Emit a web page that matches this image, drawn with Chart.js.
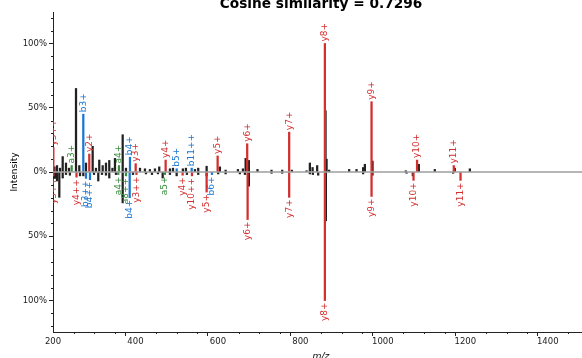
<!DOCTYPE html>
<html>
<head>
<meta charset="utf-8">
<script src="https://cdn.jsdelivr.net/npm/chart.js@4.4.1/dist/chart.umd.min.js"></script>
<style>
    body { margin: 0; background: #fff; overflow: hidden; }
    #wrap { width: 590px; height: 358px; }
</style>
</head>
<body>
<div id="wrap"><canvas id="mirrorChart" width="590" height="358"></canvas></div>
<script>
// Top spectrum: unannotated peaks
const topPeakMz = [203.6, 209.7, 217, 223.5, 231.5, 238.8, 255.8, 263.8, 280, 296.2, 304.2, 312.2, 320.5,
    328.5, 336.5, 344.2, 350.3, 369, 377, 411, 423, 435, 447.3, 457.7, 483.6, 491, 515, 522.4, 544.2, 552.2,
    572.6, 604.8, 618.7, 648.5, 660.6, 667.2, 675, 696, 730, 755.9, 779.4, 815, 823, 829.6, 840.7, 861, 863.5,
    869.8, 918.3, 936.2, 952.2, 956.4, 975, 1055.7, 1087.3, 1126, 1174.5, 1211];
const topPeakIntensity = [4, 5, 3, 12, 7, 3, 65, 5, 7, 20, 3, 9.3, 5,
    7, 9, 3, 10.6, 29, 3, 3, 2.5, 2, 2.5, 4, 2.5, 3, 2.5, 3, 2, 3,
    4.5, 4, 1.5, 2, 2.5, 10.6, 9, 2, 1.5, 1.5, 1.5, 1, 7, 3.5, 5, 47.7, 10,
    1.5, 2, 2, 3.5, 6, 8.5, 1, 6, 2, 3, 2.5];

// Top spectrum: annotated fragment ions
const topIonMz = [200.8, 245.3, 273.5, 288, 360, 386.7, 400.5, 473.2, 500, 536.4, 599.3, 671, 772.8, 859.4, 972.6, 1083, 1172];
const topIonIntensity = [19, 5, 45, 14, 5, 11.5, 6.5, 9.3, 2.5, 3, 12.5, 22, 31, 100, 54.7, 9.3, 5];
const topIonLabels = ['y3++', 'a3+', 'b3+', 'y2+', 'a4+', 'b4+', 'y3+', 'y4+', 'b5+', 'b11++', 'y5+', 'y6+', 'y7+', 'y8+', 'y9+', 'y10+', 'y11+'];

// Bottom spectrum: unannotated peaks
const bottomPeakMz = [204.8, 209.7, 215.3, 223.5, 231.5, 241, 265.5, 273.5, 299.4, 309.8, 318.8, 328.5, 336.5,
    352.7, 369, 394, 425.5, 440, 454.5, 466, 483.6, 499.9, 524.8, 552.2, 572.6, 600.7, 618.7, 653.3, 665.5,
    675, 730, 755.9, 823, 830.3, 843.2, 861.8, 952.2, 975, 1057.5, 1072.7, 1170.4];
const bottomPeakIntensity = [5, 7, 19.7, 4.7, 2, 2.5, 3, 3, 2, 7, 2, 2.5, 4.7,
    2, 24, 2, 1.5, 2, 1.5, 4.7, 2, 3, 2, 2, 3, 1.5, 1.5, 1.5, 2,
    11, 1, 1, 1.5, 2, 2.5, 38, 1.5, 2.5, 1, 3, 1];

// Bottom spectrum: annotated fragment ions
const bottomIonMz = [200.8, 257, 280, 289.7, 358.3, 377, 386, 402.4, 471.5, 514.4, 537, 572.6, 585.5, 672, 772.8, 859.4, 972.6, 1074.4, 1188.4];
const bottomIonIntensity = [3, 4, 5, 6, 2, 3, 20, 2, 2, 2.5, 3, 15.6, 2, 37, 19.7, 100, 19, 6.5, 6.5];
const bottomIonLabels = ['y3++', 'y4++', 'b3++', 'b4++', 'a4+', 'a8++', 'b4+', 'y3++', 'a5+', 'y4+', 'y10++', 'y5+', 'b6+', 'y6+', 'y7+', 'y8+', 'y9+', 'y10+', 'y11+'];

// Axis ticks
const xTickValues = [200, 400, 600, 800, 1000, 1200, 1400];
const yTickValues = [-100, -50, 0, 50, 100];

const ionColors = { a: '#388E3C', b: '#1976D2', y: '#D32F2F' };
const peakColor = '#212121';
const axisColor = '#222';

function ionColor(label) {
    return ionColors[label[0]] || peakColor;
}

function peaks(mz, intensity, sign) {
    return mz.map((x, i) => ({ x: x, y: sign * intensity[i] }));
}

function isMajor(scale, value) {
    return (scale.axis === 'x' ? xTickValues : yTickValues).includes(value);
}

// Rotated ion labels, baseline, minor ticks and titles
const spectrumDecorations = {
    id: 'spectrumDecorations',
    afterDatasetsDraw(chart) {
        const { ctx, chartArea, scales } = chart;
        const xs = scales.x, ys = scales.y;

        // zero line on top of the peaks
        const y0 = ys.getPixelForValue(0);
        ctx.save();
        ctx.strokeStyle = '#9E9E9E';
        ctx.lineWidth = 1.5;
        ctx.beginPath();
        ctx.moveTo(chartArea.left, y0);
        ctx.lineTo(chartArea.right, y0);
        ctx.stroke();

        // short minor ticks
        ctx.strokeStyle = axisColor;
        ctx.lineWidth = 1;
        ctx.beginPath();
        xs.ticks.forEach(t => {
            if (isMajor(xs, t.value)) return;
            const px = Math.round(xs.getPixelForValue(t.value)) + 0.5;
            ctx.moveTo(px, chartArea.bottom);
            ctx.lineTo(px, chartArea.bottom + 2);
        });
        ys.ticks.forEach(t => {
            if (isMajor(ys, t.value)) return;
            const py = Math.round(ys.getPixelForValue(t.value)) + 0.5;
            ctx.moveTo(chartArea.left, py);
            ctx.lineTo(chartArea.left - 2, py);
        });
        ctx.stroke();

        ctx.beginPath();
        ctx.rect(chartArea.left, 0, chartArea.right - chartArea.left, chart.height);
        ctx.clip();
        ctx.font = '9px "DejaVu Sans"';
        ctx.textBaseline = 'middle';

        function drawLabels(mz, intensity, labels, sign) {
            labels.forEach((lab, i) => {
                const px = xs.getPixelForValue(mz[i]);
                const py = ys.getPixelForValue(sign * intensity[i]);
                ctx.save();
                ctx.translate(px, py - sign * 2);
                ctx.rotate(-Math.PI / 2);
                ctx.textAlign = sign > 0 ? 'left' : 'right';
                ctx.fillStyle = ionColor(lab);
                ctx.fillText(lab, 0, 0);
                ctx.restore();
            });
        }
        drawLabels(topIonMz, topIonIntensity, topIonLabels, 1);
        drawLabels(bottomIonMz, bottomIonIntensity, bottomIonLabels, -1);
        ctx.restore();

        // titles
        const cx = (chartArea.left + chartArea.right) / 2;
        ctx.save();
        ctx.fillStyle = '#000';
        ctx.textAlign = 'center';
        ctx.textBaseline = 'alphabetic';
        ctx.font = 'bold 13.7px "DejaVu Sans"';
        ctx.fillText('Cosine similarity = 0.7296', cx, 8);
        ctx.font = 'italic 9.2px "DejaVu Sans"';
        ctx.fillText('m/z', cx, 358.5);
        ctx.translate(15, y0);
        ctx.rotate(-Math.PI / 2);
        ctx.textBaseline = 'middle';
        ctx.font = '9px "DejaVu Sans"';
        ctx.fillText('Intensity', 0, 0);
        ctx.restore();
    }
};

const barStyle = { barThickness: 1.6, borderWidth: 0, grouped: false };

const ctx = document.getElementById('mirrorChart').getContext('2d');
const mirrorChart = new Chart(ctx, {
    type: 'bar',
    data: {
        datasets: [
            { data: peaks(topPeakMz, topPeakIntensity, 1), backgroundColor: peakColor, order: 2, ...barStyle },
            { data: peaks(bottomPeakMz, bottomPeakIntensity, -1), backgroundColor: peakColor, order: 2, ...barStyle },
            { data: peaks(topIonMz, topIonIntensity, 1), backgroundColor: topIonLabels.map(ionColor), order: 1, ...barStyle },
            { data: peaks(bottomIonMz, bottomIonIntensity, -1), backgroundColor: bottomIonLabels.map(ionColor), order: 1, ...barStyle }
        ]
    },
    options: {
        responsive: false,
        animation: false,
        layout: { padding: { top: 12, right: 0, bottom: 0, left: 0 } },
        plugins: { legend: { display: false }, tooltip: { enabled: false } },
        scales: {
            x: {
                type: 'linear',
                min: 200,
                max: 1500,
                offset: false,
                afterBuildTicks: scale => {
                    const t = [];
                    for (let v = 200; v <= 1500; v += 50) t.push({ value: v });
                    scale.ticks = t;
                },
                afterFit: scale => { scale.height = 26; },
                ticks: {
                    autoSkip: false,
                    maxRotation: 0,
                    padding: 1,
                    color: axisColor,
                    font: { family: 'DejaVu Sans', size: 8.5 },
                    callback: v => xTickValues.includes(v) ? String(v) : ''
                },
                grid: {
                    drawOnChartArea: false,
                    tickLength: 4,
                    tickColor: c => c.tick && xTickValues.includes(c.tick.value) ? axisColor : 'rgba(0,0,0,0)'
                },
                border: { color: axisColor, width: 1 }
            },
            y: {
                type: 'linear',
                min: -124.5,
                max: 124.5,
                afterBuildTicks: scale => {
                    const t = [];
                    for (let v = -120; v <= 120; v += 10) t.push({ value: v });
                    scale.ticks = t;
                },
                afterFit: scale => { scale.width = 53; },
                ticks: {
                    autoSkip: false,
                    padding: 2,
                    color: axisColor,
                    font: { family: 'DejaVu Sans', size: 8.5 },
                    callback: v => yTickValues.includes(v) ? Math.abs(v) + '%' : ''
                },
                grid: {
                    drawOnChartArea: false,
                    tickLength: 4,
                    tickColor: c => c.tick && yTickValues.includes(c.tick.value) ? axisColor : 'rgba(0,0,0,0)'
                },
                border: { color: axisColor, width: 1 }
            }
        }
    },
    plugins: [spectrumDecorations]
});
</script>
</body>
</html>
